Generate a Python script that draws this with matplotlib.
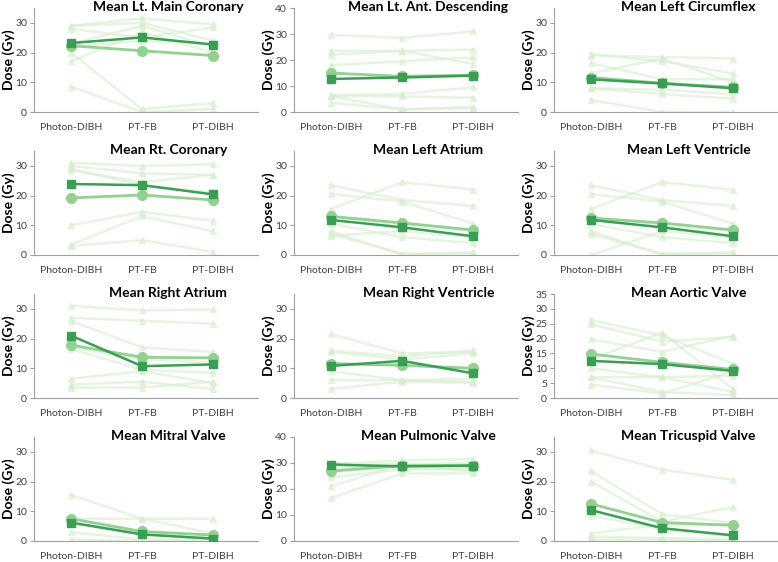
import matplotlib.pyplot as plt

# x categories
plans = ['Photon-DIBH', 'PT-FB', 'PT-DIBH']

titles = ['Mean Lt. Main Coronary', 'Mean Lt. Ant. Descending', 'Mean Left Circumflex',
          'Mean Rt. Coronary', 'Mean Left Atrium', 'Mean Left Ventricle',
          'Mean Right Atrium', 'Mean Right Ventricle', 'Mean Aortic Valve',
          'Mean Mitral Valve', 'Mean Pulmonic Valve', 'Mean Tricuspid Valve']

y_max = [35, 40, 35, 35, 35, 35, 35, 35, 35, 35, 40, 35]
y_step = [10, 10, 10, 10, 10, 10, 10, 10, 5, 10, 10, 10]

# individual patients, one row per patient: Photon-DIBH, PT-FB, PT-DIBH (Gy)
lmc_pts = [[29, 31.5, 29.5], [29, 30, 24], [28, 25, 28.5], [23, 29, 22],
           [22, 24, 23], [20, 1, 3], [17, 27, 20], [8.5, 0, 1]]
lad_pts = [[29.7, 28.5, 31], [23.5, 23.5, 24], [22, 23.5, 18.5], [18, 19.5, 21],
           [15, 13, 14], [6.5, 7, 9.5], [6, 6, 5.5], [3.5, 1, 1.5], [6, 1, 2]]
lcx_pts = [[19.5, 17, 13], [19, 18.5, 18], [16.5, 11, 11], [13, 18, 10],
           [11, 9.5, 8], [8, 7.5, 6], [4, 0, 0], [8, 6, 4.5]]
rca_pts = [[31, 30, 30.5], [30, 27.5, 27], [28.5, 24.5, 27], [29, 23.5, 21],
           [10, 14.5, 11.5], [3.5, 13, 8], [3, 5, 1]]
la_pts = [[23.5, 18.5, 16.5], [20.5, 18, 10.5], [15.5, 24.5, 22], [13, 10, 8],
          [10.5, 6, 4], [8, 0, 1], [7, 0.5, 0.5], [6.5, 8, 6]]
lv_pts = [[23.5, 18.5, 16.5], [20.5, 18, 10.5], [15.5, 24.5, 22], [13, 10, 8],
          [10.5, 6, 4], [8, 0, 1], [7, 0.5, 0.5], [0, 8, 6]]
ra_pts = [[31, 29.5, 29.8], [27, 26, 25], [26, 17, 15.5], [17, 13, 12],
          [16.5, 9.5, 8.5], [6.5, 9, 5], [4.5, 5.5, 3], [3.5, 3.5, 5.5]]
rv_pts = [[21.5, 15, 15.5], [16, 14, 16], [15.5, 13, 15], [11.5, 11, 10],
          [9, 6, 5.5], [6, 6, 6.5], [3, 5.5, 5]]
av_pts = [[26.3, 21, 11.5], [24.8, 19, 20.5], [19.8, 15.5, 21], [13, 22, 3],
          [10, 7, 2], [7, 7, 7.5], [4.5, 1.5, 9], [7, 2, 1]]
mv_pts = [[15.5, 7.5, 7.5], [7.5, 7.5, 2.5], [6, 3, 1], [3, 0.5, 0.5], [0.5, 0, 0]]
pv_pts = [[30, 29, 29.5], [29.5, 31, 31.5], [27, 28, 27.5], [24.5, 27.5, 28],
          [21, 29.5, 30], [16.5, 26, 26], [28, 30, 26.5]]
tv_pts = [[30.5, 24, 20.5], [23.5, 9, 6], [20, 6.5, 11.5], [8.5, 4, 1.5],
          [2.5, 5.5, 5.5], [1.5, 1, 0.5], [0.5, 0.5, 0]]

# group mean (circles) and median (squares)
means = [[22.3, 20.6, 19.0], [15.0, 13.7, 14.2], [11.6, 9.7, 8.3],
         [19.2, 20.2, 18.5], [13.0, 10.8, 8.4], [12.4, 10.8, 8.4],
         [17.8, 13.7, 13.5], [11.6, 11.0, 10.0], [14.8, 12.0, 9.6],
         [7.5, 3.2, 2.0], [26.9, 29.0, 29.0], [12.5, 6.2, 5.3]]
medians = [[23.2, 25.1, 22.7], [12.7, 13.3, 14.0], [11.0, 9.6, 8.0],
           [23.9, 23.5, 20.4], [11.8, 9.3, 6.3], [11.8, 9.3, 6.3],
           [21.0, 10.7, 11.3], [10.8, 12.5, 8.3], [12.5, 11.4, 9.1],
           [6.2, 2.2, 0.8], [29.4, 28.7, 29.0], [10.4, 4.3, 1.9]]

patients = [lmc_pts, lad_pts, lcx_pts, rca_pts, la_pts, lv_pts,
            ra_pts, rv_pts, av_pts, mv_pts, pv_pts, tv_pts]

plt.rcParams['font.family'] = ['Lato', 'DejaVu Sans']

fig = plt.figure(figsize=(7.78, 5.62), dpi=100)

W, H = 778, 562
col_left = [34, 294, 554]
row_bottom = [112, 255, 398, 541]
ax_w, ax_h = 224, 104

light = '#d8eed0'
mean_c = '#93d193'
med_c = '#3a9e55'
axis_c = '#a0a0a0'

x = list(range(len(plans)))

for i, title in enumerate(titles):
    r, c = divmod(i, 3)
    ax = fig.add_axes([col_left[c] / W, 1 - row_bottom[r] / H, ax_w / W, ax_h / H])

    for p in patients[i]:
        ax.plot(x, p, color=light, lw=1.8, marker='^', ms=4, alpha=0.6, zorder=1)
    ax.plot(x, means[i], color=mean_c, lw=2, marker='o', ms=7, zorder=2)
    ax.plot(x, medians[i], color=med_c, lw=1.8, marker='s', ms=6, zorder=3)

    ax.set_xlim(-0.52, 2.63)
    ax.set_ylim(0, y_max[i])
    ax.set_yticks(range(0, y_max[i] + 1, y_step[i]))
    ax.set_xticks(x)
    ax.set_xticklabels(plans)

    for s in ['top', 'right']:
        ax.spines[s].set_visible(False)
    for s in ['left', 'bottom']:
        ax.spines[s].set_color(axis_c)
        ax.spines[s].set_linewidth(0.8)
    ax.tick_params(axis='x', length=0, pad=8, labelsize=7.5, labelcolor='#404040')
    ax.tick_params(axis='y', length=3, color=axis_c, pad=2, labelsize=7.5, labelcolor='#404040')

    ax.set_ylabel('Dose (Gy)', fontsize=10, fontweight='bold')
    ax.yaxis.set_label_coords(-0.083, 0.5)
    ax.text(0.6, 1.01, title, transform=ax.transAxes, ha='center', va='center',
            fontsize=10, fontweight='bold')

fig.savefig('out.png', dpi=100)
